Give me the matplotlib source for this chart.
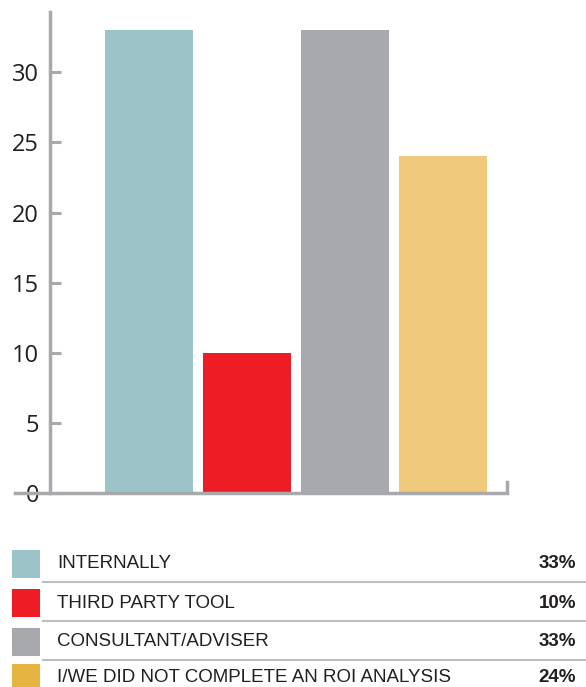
import matplotlib
matplotlib.use("Agg")
import matplotlib.pyplot as plt
from matplotlib.patches import Rectangle
from matplotlib.lines import Line2D

categories = ["INTERNALLY", "THIRD PARTY TOOL", "CONSULTANT/ADVISER",
              "I/WE DID NOT COMPLETE AN ROI ANALYSIS"]
values = [33, 10, 33, 24]
pct_labels = ["33%", "10%", "33%", "24%"]
bar_colors = ["#9cc3c8", "#ee1c25", "#a7a9ac", "#f1c97c"]
swatch_colors = ["#9cc3c8", "#ee1c25", "#a7a9ac", "#e6b441"]
yticks = [0, 5, 10, 15, 20, 25, 30]

W, H = 586, 687
fig = plt.figure(figsize=(W / 100, H / 100), dpi=100)
plt.rcParams['font.family'] = ['Liberation Sans', 'DejaVu Sans']

axis_col = "#a7a9ac"
text_col = "#231f20"

# axes in pixel coords: left 50, right 508, top 12, bottom 493
ax = fig.add_axes([50 / W, 1 - 493 / H, (508 - 50) / W, (493 - 12) / H])
ax.bar(range(len(values)), values, width=0.898, color=bar_colors)
ax.set_xlim(-1.01, 3.663)
ax.set_ylim(0, 34.3)
ax.set_yticks(yticks)
ax.set_yticklabels([str(t) for t in yticks], fontsize=17, color=text_col,
                   family=['Open Sans', 'DejaVu Sans'])
ax.tick_params(axis='y', direction='in', length=8, width=2.2, color=axis_col, pad=8)
ax.set_xticks([])
for s in ['top', 'right', 'bottom']:
    ax.spines[s].set_visible(False)
ax.spines['left'].set_color(axis_col)
ax.spines['left'].set_linewidth(2.5)

# baseline extending left past the axis, with an upturn at the right end
x0 = 15 / W
x1 = 507 / W
yb = 1 - 493 / H
fig.add_artist(Line2D([x0, x1, x1], [yb, yb, yb + 11 / H], color=axis_col,
                      lw=2.5, solid_joinstyle='miter'))

# legend table
row_centers = [564, 603, 642, 678]
for i, (cat, pct, col) in enumerate(zip(categories, pct_labels, swatch_colors)):
    yc = 1 - row_centers[i] / H
    fig.add_artist(Rectangle((12 / W, yc - 14 / H), 28 / W, 28 / H,
                             transform=fig.transFigure, color=col, lw=0))
    fig.text(57 / W, yc, cat, fontsize=13.5, color=text_col, va='center', ha='left')
    fig.text(576 / W, yc, pct, fontsize=13.5, color=text_col, va='center',
             ha='right', fontweight='bold')
    if i < 3:
        ysep = 1 - (row_centers[i] + 18) / H
        fig.add_artist(Line2D([43 / W, 585 / W], [ysep, ysep], color="#bcbec0", lw=1.5))

fig.savefig("out.png", dpi=100)
